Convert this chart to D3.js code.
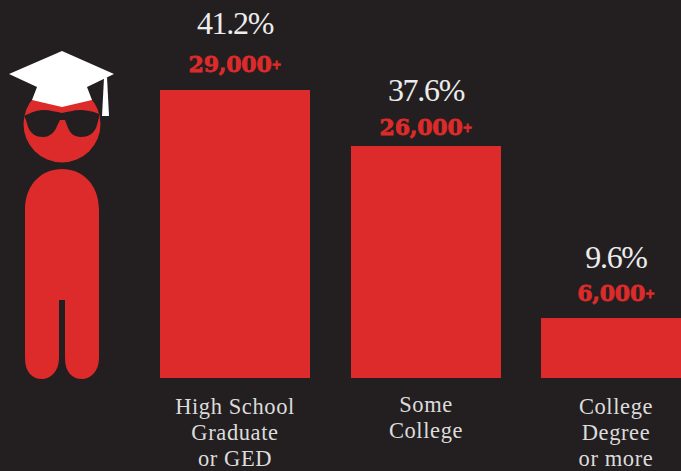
<!DOCTYPE html>
<html><head><meta charset="utf-8">
<script src="https://cdn.jsdelivr.net/npm/d3@7"></script>
<style>html,body{margin:0;padding:0;background:#231f20;overflow:hidden}svg{display:block}</style>
</head><body><svg id="c" width="681" height="471"></svg>
<script>
const categories = ["High School Graduate or GED", "Some College", "College Degree or more"];
const categoryLines = [["High School","Graduate","or GED"],["Some","College"],["College","Degree","or more"]];
const percentLabels = ["41.2%","37.6%","9.6%"];
const countLabels = ["29,000","26,000","6,000"];
const barValues = [29000, 23360, 6040];
const RED = "#dc2b2a", BG = "#231f20";
const svg = d3.select("#c");
svg.append("rect").attr("width",681).attr("height",471).attr("fill",BG);

const x = d3.scalePoint().domain(categories).range([235,616]);
const bw = 150;
const y = d3.scaleLinear().domain([0,29000]).range([378,90]);

svg.selectAll("rect.bar").data(categories).join("rect").attr("class","bar")
  .attr("x",d=>Math.round(x(d))-bw/2).attr("width",bw)
  .attr("y",(d,i)=>y(barValues[i])).attr("height",(d,i)=>378-y(barValues[i]))
  .attr("fill",RED);

const serif = "'Liberation Serif', serif";
categories.forEach((c,i)=>{
  const top = y(barValues[i]), cx = Math.round(x(c));
  svg.append("text").attr("x",cx).attr("y",top-[56,45,50][i])
    .attr("text-anchor","middle").attr("font-family",serif).attr("font-size",32)
    .attr("letter-spacing",-1.3).attr("fill","#ececec").text(percentLabels[i]);
  const t = svg.append("text").attr("x",cx).attr("y",top-[18,11,17][i])
    .attr("text-anchor","middle").attr("font-family","'DejaVu Serif', serif").attr("font-size",22)
    .attr("font-weight",700).attr("fill",RED).attr("stroke",RED).attr("stroke-width",0.8)
    .attr("letter-spacing",-0.2);
  t.append("tspan").text(countLabels[i]);
  t.append("tspan").attr("font-size",12).attr("dy",-3).text("+");
  const y0 = i===1 ? 412 : 414;
  categoryLines[i].forEach((l,j)=>{
    svg.append("text").attr("x",cx).attr("y",y0+j*26)
      .attr("text-anchor","middle").attr("font-family",serif).attr("font-size",22.5)
      .attr("letter-spacing",0.6).attr("fill","#dcdcdc").text(l);
  });
});

// Person icon
const g = svg.append("g");
g.append("circle").attr("cx",62).attr("cy",124).attr("r",38.5).attr("fill",RED);
// glasses
g.append("path").attr("fill",BG).attr("d","M24,116 C32,112 38,110 44,110 C50,110 56,112 62,113 C68,112 74,110 80,110 C86,110 92,111 99,114 L99,117 C98,122 97,125 96,128 C93,134 88,137 81,137 C74,137 70,133 68,128 L65,120 L60,120 L57,126 C55,132 50,137 43,137 C36,137 31,134 28,127 C27,123 26,119 24,116 Z");
// body
g.append("path").attr("fill",RED).attr("d","M25,379 L25,210 C25,183 43,169 62,169 C81,169 99,183 99,210 L99,358 C99,372 90,379 82,379 C72,379 65,372 65,358 L65,300 L59,300 L59,358 C59,372 50,379 42,379 C32,379 25,372 25,358 Z");
// cap
g.append("path").attr("fill","#ffffff").attr("d","M62,51 L114,74 L87,87 L92,100 L62,107 L32,100 L37,87 L9,74 Z");
g.append("path").attr("fill","#ffffff").attr("d","M104,78 L107,77 L109,116 L102,116 Z");
</script></body></html>
